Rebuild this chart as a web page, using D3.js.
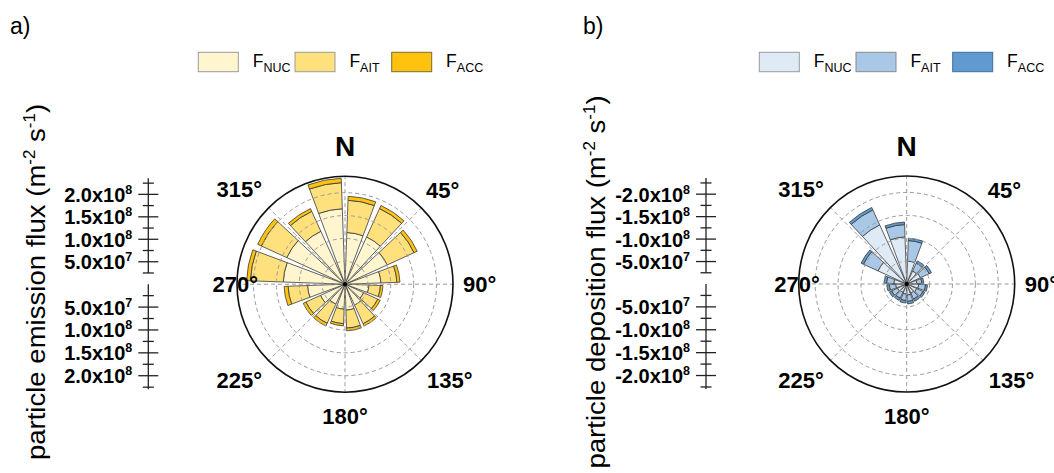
<!DOCTYPE html>
<html lang="en">
<head>
  <meta charset="UTF-8">
  <title>Particle flux roses</title>
  <script src="https://d3js.org/d3.v7.min.js"></script>
  <style>
    body { margin: 0; background: #fff; }
    text { font-family: "Liberation Sans", Arial, sans-serif; fill: #000; }
  </style>
</head>
<body>
  <script>
    // wind direction sectors (bar centres, degrees clockwise from N)
    const directions = [11.25, 33.75, 56.25, 78.75, 101.25, 123.75, 146.25, 168.75,
                        191.25, 213.75, 236.25, 258.75, 281.25, 303.75, 326.25, 348.75];

    // a) emission flux (m-2 s-1) per mode, stacked
    const nucEmission = [11.3e7, 11.35e7, 10.15e7, 7.86e7, 5.24e7, 4.48e7, 5.02e7, 5.68e7,
                         5.46e7, 4.80e7, 5.9e7, 8.19e7, 13.5e7, 14.0e7, 12.7e7, 16.5e7];
    const aitEmission = [7.05e7, 6.83e7, 6.44e7, 3.49e7, 2.51e7, 3.38e7, 4.48e7, 3.93e7,
                         3.17e7, 4.59e7, 3.49e7, 4.26e7, 7.2e7, 6.1e7, 4.8e7, 5.7e7];
    const accEmission = [0.87e7, 0.74e7, 0.76e7, 0.66e7, 0.55e7, 0.59e7, 0.55e7, 0.59e7,
                         0.48e7, 0.66e7, 0.66e7, 0.87e7, 0.81e7, 0.87e7, 0.66e7, 0.96e7];

    // b) deposition flux (m-2 s-1) per mode, stacked
    const nucDeposition = [-5.0e7, -3.1e7, -3.3e7, -2.2e7, -2.6e7, -2.4e7, -2.2e7, -2.4e7,
                           -2.2e7, -2.0e7, -2.2e7, -2.4e7, -2.8e7, -6.9e7, -14.2e7, -10.3e7];
    const aitDeposition = [-4.5e7, -1.9e7, -2.1e7, -1.1e7, -1.5e7, -1.5e7, -1.4e7, -1.4e7,
                           -1.4e7, -1.4e7, -1.4e7, -1.4e7, -1.6e7, -3.5e7, -3.6e7, -2.7e7];
    const accDeposition = [-0.5e7, -0.55e7, -0.55e7, -0.44e7, -0.44e7, -0.44e7, -0.55e7, -0.55e7,
                           -0.55e7, -0.55e7, -0.55e7, -0.55e7, -0.55e7, -0.55e7, -0.59e7, -0.55e7];

    const seriesNames = ["NUC", "AIT", "ACC"];
    const majorTicks = [5e7, 1e8, 1.5e8, 2e8];
    const minorTicks = d3.range(2.5e7, 2.3e8, 2.5e7);
    const compassLabels = [
      { angle: 0, text: "N" }, { angle: 45, text: "45°" }, { angle: 90, text: "90°" },
      { angle: 135, text: "135°" }, { angle: 180, text: "180°" }, { angle: 225, text: "225°" },
      { angle: 270, text: "270°" }, { angle: 315, text: "315°" }
    ];

    const width = 1054, height = 473;
    const R = 108, maxValue = 2.36e8, halfWidth = 9.2;

    const svg = d3.select("body").append("svg")
      .attr("width", width)
      .attr("height", height);

    // label placement around the rose: [dx, dy, anchor]
    const labelPos = {
      0: [0, -128, "middle"], 45: [81, -86, "start"], 90: [118, 8, "start"],
      135: [82, 104, "start"], 180: [0, 140, "middle"], 225: [-83, 104, "end"],
      270: [-87, 8, "end"], 315: [-83, -87, "end"]
    };

    const fmtTick = (v, sign) => {
      const e = Math.floor(Math.log10(v));
      return { mant: sign + (v / Math.pow(10, e)).toFixed(1) + "x10", exp: e };
    };

    function drawPanel(p) {
      const g = svg.append("g");
      const r = d3.scaleLinear().domain([0, maxValue]).range([0, R]);

      // panel letter
      g.append("text").attr("x", p.letterX).attr("y", 34)
        .style("font-size", "23px").text(p.letter);

      // legend
      const leg = g.append("g").attr("transform", `translate(${p.legendX},52.3)`);
      seriesNames.forEach((name, i) => {
        leg.append("rect")
          .attr("x", i * 96.7).attr("y", 0)
          .attr("width", 40).attr("height", 19.4)
          .attr("fill", p.colors[i]).attr("stroke", p.legendStroke[i]).attr("stroke-width", 1);
        const t = leg.append("text").attr("x", i * 96.7 + 54.4).attr("y", 15)
          .style("font-size", "17.5px");
        t.append("tspan").text("F");
        t.append("tspan").attr("dy", 4.5).style("font-size", "12.5px").text(name);
      });

      // y title
      const title = g.append("text")
        .attr("transform", `translate(${p.titleX},282) rotate(-90) scale(1.06,1)`)
        .attr("text-anchor", "middle")
        .style("font-size", "26px");
      title.append("tspan").text(p.title + " (m");
      title.append("tspan").attr("dy", -10).style("font-size", "16px").text("-2");
      title.append("tspan").attr("dy", 10).text(" s");
      title.append("tspan").attr("dy", -10).style("font-size", "16px").text("-1");
      title.append("tspan").attr("dy", 10).text(")");

      // side axis
      const yUp = d3.scaleLinear().domain([0, maxValue]).range([p.cy, p.cy - R + 2]);
      const yDown = d3.scaleLinear().domain([0, maxValue]).range([p.cy, p.cy + R]);
      const ax = g.append("g").attr("stroke", "#222").attr("stroke-width", 1.3);
      ax.append("line").attr("x1", p.axisX).attr("x2", p.axisX)
        .attr("y1", yUp(2.5e7)).attr("y2", yUp(maxValue));
      ax.append("line").attr("x1", p.axisX).attr("x2", p.axisX)
        .attr("y1", yDown(0)).attr("y2", yDown(maxValue) - 3);
      [yUp, yDown].forEach(y => {
        minorTicks.forEach(v => {
          const major = majorTicks.some(m => Math.abs(m - v) < 1);
          const len = major ? 10 : 5.5;
          ax.append("line")
            .attr("x1", p.axisX - len).attr("x2", p.axisX + len)
            .attr("y1", y(v)).attr("y2", y(v));
        });
        majorTicks.forEach(v => {
          const f = fmtTick(v, p.sign);
          const t = g.append("text")
            .attr("x", p.axisX - 16).attr("y", y(v) + 7.5)
            .attr("text-anchor", "end")
            .style("font-size", "20px").style("font-weight", "bold");
          t.append("tspan").text(f.mant);
          t.append("tspan").attr("dy", -8).style("font-size", "12.5px").text(f.exp);
        });
      });

      const rose = g.append("g").attr("transform", `translate(${p.cx},${p.cy})`);

      // stacked bars
      const arc = d3.arc();
      const series = [p.nuc, p.ait, p.acc];
      directions.forEach((dir, i) => {
        let base = 0;
        series.forEach((s, k) => {
          const top = base + Math.abs(s[i]);
          rose.append("path")
            .attr("d", arc({
              innerRadius: r(base), outerRadius: r(top),
              startAngle: (dir - halfWidth) * Math.PI / 180,
              endAngle: (dir + halfWidth) * Math.PI / 180
            }))
            .attr("fill", p.colors[k])
            .attr("stroke", "#3a3a3a")
            .attr("stroke-width", 0.8)
            .attr("stroke-linejoin", "round");
          base = top;
        });
      });

      // dashed grid over the bars
      rose.selectAll(".ring").data(majorTicks).join("circle")
        .attr("r", d => r(d))
        .attr("fill", "none").attr("stroke", "#9a9a9a")
        .attr("stroke-width", 1).attr("stroke-dasharray", "4,3");
      rose.selectAll(".spoke").data(d3.range(0, 360, 45)).join("line")
        .attr("x1", 0).attr("y1", 0)
        .attr("x2", d => R * Math.sin(d * Math.PI / 180))
        .attr("y2", d => -R * Math.cos(d * Math.PI / 180))
        .attr("stroke", "#9a9a9a").attr("stroke-width", 1).attr("stroke-dasharray", "4,3");

      rose.append("circle").attr("r", R)
        .attr("fill", "none").attr("stroke", "#111").attr("stroke-width", 1.6);
      rose.append("circle").attr("r", 2.2).attr("fill", "#000");

      // compass labels
      compassLabels.forEach(d => {
        const [dx, dy, anchor] = labelPos[d.angle];
        rose.append("text")
          .attr("x", dx).attr("y", dy)
          .attr("text-anchor", anchor)
          .style("font-weight", "bold")
          .style("font-size", d.angle === 0 ? "28px" : "22px")
          .text(d.text);
      });
    }

    drawPanel({
      letter: "a)", letterX: 10, legendX: 198.3,
      cx: 345, cy: 284.2, axisX: 148.3, titleX: 45, sign: "",
      title: "particle emission flux",
      nuc: nucEmission, ait: aitEmission, acc: accEmission,
      colors: ["#fff6cf", "#fee17c", "#ffc20e"],
      legendStroke: ["#9a9a9a", "#9a9a9a", "#7a6a3a"]
    });

    drawPanel({
      letter: "b)", letterX: 583, legendX: 759.3,
      cx: 906.7, cy: 284, axisX: 706, titleX: 605, sign: "-",
      title: "particle deposition flux",
      nuc: nucDeposition, ait: aitDeposition, acc: accDeposition,
      colors: ["#deebf7", "#a9c8e7", "#5f9bd1"],
      legendStroke: ["#9a9a9a", "#8a8a8a", "#3f6f9a"]
    });
  </script>
</body>
</html>
